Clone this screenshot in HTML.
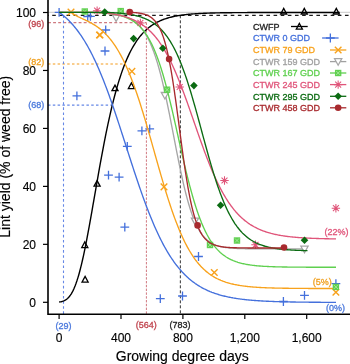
<!DOCTYPE html>
<html><head><meta charset="utf-8"><style>html,body{margin:0;padding:0;background:#fff;}svg{display:block;will-change:transform}</style></head>
<body><svg width="350" height="364" viewBox="0 0 350 364">
<line x1="48" y1="12.3" x2="350" y2="12.3" stroke="#c8c8c8" stroke-width="1"/>
<line x1="48" y1="15.3" x2="350" y2="15.3" stroke="#1a1a1a" stroke-width="1.3" stroke-dasharray="3.6,3.54" stroke-dashoffset="2.92"/>
<line x1="48" y1="22.6" x2="146.4" y2="22.6" stroke="#cf7a80" stroke-width="1.4" stroke-dasharray="2.9,2.2"/>
<line x1="146.4" y1="22.6" x2="146.4" y2="314" stroke="#d07880" stroke-width="1" stroke-dasharray="2.4,1.4"/>
<line x1="48" y1="64" x2="125" y2="64" stroke="#f8bd68" stroke-width="1.4" stroke-dasharray="2.5,2.3"/>
<line x1="48" y1="105.1" x2="112.5" y2="105.1" stroke="#6688e6" stroke-width="1.3" stroke-dasharray="2.5,2.3"/>
<line x1="63.5" y1="15.5" x2="63.5" y2="314" stroke="#6688e6" stroke-width="1.1" stroke-dasharray="2.6,2.5"/>
<line x1="180.35" y1="15.3" x2="180.35" y2="314" stroke="#333" stroke-width="1" stroke-dasharray="3,2"/>
<path d="M59.10,301.98 L60.04,301.86 L60.98,301.69 L61.92,301.47 L62.85,301.19 L63.79,300.84 L64.73,300.40 L65.67,299.87 L66.61,299.22 L67.55,298.44 L68.48,297.53 L69.42,296.45 L70.36,295.21 L71.30,293.78 L72.24,292.16 L73.18,290.33 L74.12,288.28 L75.05,286.02 L75.99,283.53 L76.93,280.81 L77.87,277.86 L78.81,274.68 L79.75,271.28 L80.68,267.65 L81.62,263.82 L82.56,259.78 L83.50,255.55 L84.44,251.13 L85.38,246.55 L86.32,241.82 L87.25,236.95 L88.19,231.96 L89.13,226.86 L90.07,221.67 L91.01,216.40 L91.95,211.08 L92.88,205.71 L93.82,200.32 L94.76,194.92 L95.70,189.52 L96.64,184.13 L97.58,178.77 L98.52,173.45 L99.45,168.18 L100.39,162.98 L101.33,157.84 L102.27,152.78 L103.21,147.81 L104.15,142.93 L105.08,138.15 L106.02,133.47 L106.96,128.90 L107.90,124.44 L108.84,120.09 L109.78,115.86 L110.72,111.75 L111.65,107.76 L112.59,103.89 L113.53,100.14 L114.47,96.51 L115.41,93.00 L116.35,89.60 L117.28,86.32 L118.22,83.16 L119.16,80.11 L120.10,77.18 L121.04,74.35 L121.98,71.63 L122.92,69.01 L123.85,66.49 L124.79,64.08 L125.73,61.76 L126.67,59.53 L127.61,57.40 L128.55,55.35 L129.48,53.39 L130.42,51.51 L131.36,49.71 L132.30,47.99 L133.24,46.34 L134.18,44.77 L135.12,43.26 L136.05,41.82 L136.99,40.44 L137.93,39.13 L138.87,37.87 L139.81,36.67 L140.75,35.52 L141.68,34.43 L142.62,33.38 L143.56,32.39 L144.50,31.44 L145.44,30.53 L146.38,29.67 L147.32,28.84 L148.25,28.06 L149.19,27.31 L150.13,26.59 L151.07,25.91 L152.01,25.26 L152.95,24.65 L153.88,24.06 L154.82,23.50 L155.76,22.96 L156.70,22.46 L157.64,21.97 L158.58,21.51 L159.52,21.07 L160.45,20.65 L161.39,20.26 L162.33,19.88 L163.27,19.52 L164.21,19.17 L165.15,18.85 L166.08,18.54 L167.02,18.24 L167.96,17.96 L168.90,17.69 L169.84,17.44 L170.78,17.20 L171.72,16.97 L172.65,16.75 L173.59,16.54 L174.53,16.34 L175.47,16.15 L176.41,15.97 L177.35,15.80 L178.28,15.64 L179.22,15.48 L180.16,15.34 L181.10,15.20 L182.04,15.07 L182.98,14.94 L183.92,14.82 L184.85,14.70 L185.79,14.60 L186.73,14.49 L187.67,14.39 L188.61,14.30 L189.55,14.21 L190.48,14.13 L191.42,14.05 L192.36,13.97 L193.30,13.90 L194.24,13.83 L195.18,13.76 L196.12,13.70 L197.05,13.64 L197.99,13.59 L198.93,13.53 L199.87,13.48 L200.81,13.43 L201.75,13.39 L202.68,13.34 L203.62,13.30 L204.56,13.26 L205.50,13.22 L206.44,13.19 L207.38,13.15 L208.32,13.12 L209.25,13.09 L210.19,13.06 L211.13,13.03 L212.07,13.01 L213.01,12.98 L213.95,12.96 L214.88,12.94 L215.82,12.92 L216.76,12.89 L217.70,12.88 L218.64,12.86 L219.58,12.84 L220.52,12.82 L221.45,12.81 L222.39,12.79 L223.33,12.78 L224.27,12.76 L225.21,12.75 L226.15,12.74 L227.08,12.73 L228.02,12.71 L228.96,12.70 L229.90,12.69 L230.84,12.68 L231.78,12.68 L232.72,12.67 L233.65,12.66 L234.59,12.65 L235.53,12.64 L236.47,12.64 L237.41,12.63 L238.35,12.62 L239.28,12.62 L240.22,12.61 L241.16,12.61 L242.10,12.60 L243.04,12.60 L243.98,12.59 L244.92,12.59 L245.85,12.58 L246.79,12.58 L247.73,12.57 L248.67,12.57 L249.61,12.57 L250.55,12.56 L251.48,12.56 L252.42,12.56 L253.36,12.55 L254.30,12.55 L255.24,12.55 L256.18,12.55 L257.12,12.54 L258.05,12.54 L258.99,12.54 L259.93,12.54 L260.87,12.54 L261.81,12.53 L262.75,12.53 L263.68,12.53 L264.62,12.53 L265.56,12.53 L266.50,12.53 L267.44,12.53 L268.38,12.52 L269.32,12.52 L270.25,12.52 L271.19,12.52 L272.13,12.52 L273.07,12.52 L274.01,12.52 L274.95,12.52 L275.88,12.52 L276.82,12.52 L277.76,12.51 L278.70,12.51 L279.64,12.51 L280.58,12.51 L281.52,12.51 L282.45,12.51 L283.39,12.51 L284.33,12.51 L285.27,12.51 L286.21,12.51 L287.15,12.51 L288.08,12.51 L289.02,12.51 L289.96,12.51 L290.90,12.51 L291.84,12.51 L292.78,12.51 L293.72,12.51 L294.65,12.51 L295.59,12.51 L296.53,12.51 L297.47,12.51 L298.41,12.50 L299.35,12.50 L300.28,12.50 L301.22,12.50 L302.16,12.50 L303.10,12.50 L304.04,12.50 L304.98,12.50 L305.92,12.50 L306.85,12.50 L307.79,12.50 L308.73,12.50 L309.67,12.50 L310.61,12.50 L311.55,12.50 L312.48,12.50 L313.42,12.50 L314.36,12.50 L315.30,12.50 L316.24,12.50 L317.18,12.50 L318.12,12.50 L319.05,12.50 L319.99,12.50 L320.93,12.50 L321.87,12.50 L322.81,12.50 L323.75,12.50 L324.68,12.50 L325.62,12.50 L326.56,12.50 L327.50,12.50 L328.44,12.50 L329.38,12.50 L330.32,12.50 L331.25,12.50 L332.19,12.50 L333.13,12.50 L334.07,12.50 L335.01,12.50 L335.95,12.50 L336.88,12.50 L337.82,12.50 L338.76,12.50 L339.70,12.50" fill="none" stroke="#000" stroke-width="1.4"/>
<path d="M82.10,282.05 L88.10,282.05 L85.10,276.50 Z" fill="none" stroke="#000" stroke-width="1.35"/>
<path d="M81.80,247.55 L87.80,247.55 L84.80,242.00 Z" fill="none" stroke="#000" stroke-width="1.35"/>
<path d="M94.10,186.15 L100.10,186.15 L97.10,180.60 Z" fill="none" stroke="#000" stroke-width="1.35"/>
<path d="M112.00,90.65 L118.00,90.65 L115.00,85.10 Z" fill="none" stroke="#000" stroke-width="1.35"/>
<path d="M128.40,88.55 L134.40,88.55 L131.40,83.00 Z" fill="none" stroke="#000" stroke-width="1.35"/>
<path d="M280.70,13.95 L286.70,13.95 L283.70,8.40 Z" fill="none" stroke="#000" stroke-width="1.35"/>
<path d="M301.30,13.95 L307.30,13.95 L304.30,8.40 Z" fill="none" stroke="#000" stroke-width="1.35"/>
<path d="M333.30,13.95 L339.30,13.95 L336.30,8.40 Z" fill="none" stroke="#000" stroke-width="1.35"/>
<path d="M59.10,12.30 L60.03,12.97 L60.95,13.66 L61.88,14.38 L62.80,15.12 L63.73,15.88 L64.66,16.67 L65.58,17.49 L66.51,18.33 L67.43,19.20 L68.36,20.10 L69.29,21.02 L70.21,21.98 L71.14,22.96 L72.07,23.97 L72.99,25.02 L73.92,26.10 L74.84,27.21 L75.77,28.35 L76.70,29.53 L77.62,30.75 L78.55,31.99 L79.47,33.28 L80.40,34.60 L81.33,35.96 L82.25,37.35 L83.18,38.78 L84.10,40.26 L85.03,41.77 L85.96,43.32 L86.88,44.91 L87.81,46.54 L88.73,48.21 L89.66,49.93 L90.59,51.68 L91.51,53.48 L92.44,55.31 L93.37,57.19 L94.29,59.12 L95.22,61.08 L96.14,63.09 L97.07,65.13 L98.00,67.22 L98.92,69.35 L99.85,71.52 L100.77,73.73 L101.70,75.98 L102.63,78.27 L103.55,80.60 L104.48,82.97 L105.40,85.38 L106.33,87.82 L107.26,90.29 L108.18,92.81 L109.11,95.35 L110.03,97.93 L110.96,100.54 L111.89,103.17 L112.81,105.84 L113.74,108.53 L114.67,111.25 L115.59,113.99 L116.52,116.75 L117.44,119.54 L118.37,122.34 L119.30,125.16 L120.22,127.99 L121.15,130.84 L122.07,133.70 L123.00,136.56 L123.93,139.44 L124.85,142.32 L125.78,145.20 L126.70,148.08 L127.63,150.96 L128.56,153.84 L129.48,156.71 L130.41,159.58 L131.33,162.44 L132.26,165.28 L133.19,168.12 L134.11,170.94 L135.04,173.74 L135.97,176.52 L136.89,179.29 L137.82,182.03 L138.74,184.75 L139.67,187.44 L140.60,190.11 L141.52,192.75 L142.45,195.36 L143.37,197.94 L144.30,200.49 L145.23,203.00 L146.15,205.48 L147.08,207.93 L148.00,210.34 L148.93,212.72 L149.86,215.05 L150.78,217.35 L151.71,219.61 L152.63,221.83 L153.56,224.01 L154.49,226.15 L155.41,228.25 L156.34,230.31 L157.27,232.33 L158.19,234.31 L159.12,236.24 L160.04,238.14 L160.97,239.99 L161.90,241.81 L162.82,243.58 L163.75,245.31 L164.67,247.01 L165.60,248.66 L166.53,250.27 L167.45,251.84 L168.38,253.38 L169.30,254.87 L170.23,256.33 L171.16,257.75 L172.08,259.14 L173.01,260.48 L173.93,261.79 L174.86,263.07 L175.79,264.31 L176.71,265.52 L177.64,266.69 L178.57,267.83 L179.49,268.94 L180.42,270.02 L181.34,271.06 L182.27,272.08 L183.20,273.06 L184.12,274.02 L185.05,274.95 L185.97,275.85 L186.90,276.72 L187.83,277.57 L188.75,278.39 L189.68,279.19 L190.60,279.96 L191.53,280.71 L192.46,281.43 L193.38,282.14 L194.31,282.82 L195.23,283.48 L196.16,284.11 L197.09,284.73 L198.01,285.33 L198.94,285.91 L199.87,286.47 L200.79,287.01 L201.72,287.54 L202.64,288.04 L203.57,288.53 L204.50,289.01 L205.42,289.47 L206.35,289.91 L207.27,290.34 L208.20,290.76 L209.13,291.16 L210.05,291.55 L210.98,291.92 L211.90,292.29 L212.83,292.64 L213.76,292.97 L214.68,293.30 L215.61,293.62 L216.53,293.92 L217.46,294.22 L218.39,294.50 L219.31,294.78 L220.24,295.05 L221.17,295.30 L222.09,295.55 L223.02,295.79 L223.94,296.02 L224.87,296.25 L225.80,296.46 L226.72,296.67 L227.65,296.87 L228.57,297.07 L229.50,297.26 L230.43,297.44 L231.35,297.61 L232.28,297.78 L233.20,297.95 L234.13,298.10 L235.06,298.26 L235.98,298.40 L236.91,298.55 L237.83,298.68 L238.76,298.81 L239.69,298.94 L240.61,299.06 L241.54,299.18 L242.47,299.30 L243.39,299.41 L244.32,299.52 L245.24,299.62 L246.17,299.72 L247.10,299.81 L248.02,299.91 L248.95,300.00 L249.87,300.08 L250.80,300.17 L251.73,300.25 L252.65,300.32 L253.58,300.40 L254.50,300.47 L255.43,300.54 L256.36,300.61 L257.28,300.67 L258.21,300.73 L259.13,300.79 L260.06,300.85 L260.99,300.91 L261.91,300.96 L262.84,301.02 L263.77,301.07 L264.69,301.11 L265.62,301.16 L266.54,301.21 L267.47,301.25 L268.40,301.29 L269.32,301.33 L270.25,301.37 L271.17,301.41 L272.10,301.45 L273.03,301.48 L273.95,301.52 L274.88,301.55 L275.80,301.58 L276.73,301.61 L277.66,301.64 L278.58,301.67 L279.51,301.70 L280.43,301.72 L281.36,301.75 L282.29,301.77 L283.21,301.80 L284.14,301.82 L285.07,301.84 L285.99,301.86 L286.92,301.88 L287.84,301.90 L288.77,301.92 L289.70,301.94 L290.62,301.96 L291.55,301.98 L292.47,301.99 L293.40,302.01 L294.33,302.02 L295.25,302.04 L296.18,302.05 L297.10,302.07 L298.03,302.08 L298.96,302.09 L299.88,302.11 L300.81,302.12 L301.73,302.13 L302.66,302.14 L303.59,302.15 L304.51,302.16 L305.44,302.17 L306.37,302.18 L307.29,302.19 L308.22,302.20 L309.14,302.21 L310.07,302.22 L311.00,302.22 L311.92,302.23 L312.85,302.24 L313.77,302.25 L314.70,302.25 L315.63,302.26 L316.55,302.27 L317.48,302.27 L318.40,302.28 L319.33,302.28 L320.26,302.29 L321.18,302.30 L322.11,302.30 L323.03,302.31 L323.96,302.31 L324.89,302.32 L325.81,302.32 L326.74,302.32 L327.67,302.33 L328.59,302.33 L329.52,302.34 L330.44,302.34 L331.37,302.34 L332.30,302.35 L333.22,302.35 L334.15,302.35 L335.07,302.36 L336.00,302.36" fill="none" stroke="#4470dc" stroke-width="1.35"/>
<path d="M54.70,12.30 H63.50 M59.10,7.90 V16.70" stroke="#4470dc" stroke-width="1.3"/>
<path d="M72.50,95.90 H81.30 M76.90,91.50 V100.30" stroke="#4470dc" stroke-width="1.3"/>
<path d="M83.30,16.50 H92.10 M87.70,12.10 V20.90" stroke="#4470dc" stroke-width="1.3"/>
<path d="M86.00,16.30 H94.80 M90.40,11.90 V20.70" stroke="#4470dc" stroke-width="1.3"/>
<path d="M101.30,30.00 H110.10 M105.70,25.60 V34.40" stroke="#4470dc" stroke-width="1.3"/>
<path d="M100.60,51.00 H109.40 M105.00,46.60 V55.40" stroke="#4470dc" stroke-width="1.3"/>
<path d="M104.10,175.10 H112.90 M108.50,170.70 V179.50" stroke="#4470dc" stroke-width="1.3"/>
<path d="M114.70,177.10 H123.50 M119.10,172.70 V181.50" stroke="#4470dc" stroke-width="1.3"/>
<path d="M120.40,227.20 H129.20 M124.80,222.80 V231.60" stroke="#4470dc" stroke-width="1.3"/>
<path d="M122.90,146.30 H131.70 M127.30,141.90 V150.70" stroke="#4470dc" stroke-width="1.3"/>
<path d="M137.50,130.90 H146.30 M141.90,126.50 V135.30" stroke="#4470dc" stroke-width="1.3"/>
<path d="M145.30,128.80 H154.10 M149.70,124.40 V133.20" stroke="#4470dc" stroke-width="1.3"/>
<path d="M155.90,298.60 H164.70 M160.30,294.20 V303.00" stroke="#4470dc" stroke-width="1.3"/>
<path d="M178.10,296.00 H186.90 M182.50,291.60 V300.40" stroke="#4470dc" stroke-width="1.3"/>
<path d="M194.10,256.50 H202.90 M198.50,252.10 V260.90" stroke="#4470dc" stroke-width="1.3"/>
<path d="M279.00,301.50 H287.80 M283.40,297.10 V305.90" stroke="#4470dc" stroke-width="1.3"/>
<path d="M300.10,295.30 H308.90 M304.50,290.90 V299.70" stroke="#4470dc" stroke-width="1.3"/>
<path d="M331.50,283.70 H340.30 M335.90,279.30 V288.10" stroke="#4470dc" stroke-width="1.3"/>
<path d="M71.30,12.30 L72.19,13.04 L73.07,13.71 L73.96,14.33 L74.84,14.89 L75.73,15.42 L76.61,15.92 L77.50,16.38 L78.38,16.83 L79.27,17.26 L80.15,17.68 L81.04,18.09 L81.92,18.50 L82.81,18.90 L83.69,19.30 L84.58,19.71 L85.46,20.12 L86.35,20.54 L87.24,20.96 L88.12,21.40 L89.01,21.85 L89.89,22.31 L90.78,22.79 L91.66,23.28 L92.55,23.79 L93.43,24.31 L94.32,24.86 L95.20,25.42 L96.09,26.01 L96.97,26.62 L97.86,27.25 L98.74,27.91 L99.63,28.59 L100.51,29.30 L101.40,30.04 L102.28,30.80 L103.17,31.60 L104.06,32.43 L104.94,33.28 L105.83,34.18 L106.71,35.10 L107.60,36.06 L108.48,37.06 L109.37,38.09 L110.25,39.17 L111.14,40.28 L112.02,41.43 L112.91,42.63 L113.79,43.86 L114.68,45.14 L115.56,46.47 L116.45,47.84 L117.33,49.26 L118.22,50.73 L119.11,52.24 L119.99,53.80 L120.88,55.42 L121.76,57.08 L122.65,58.80 L123.53,60.57 L124.42,62.39 L125.30,64.27 L126.19,66.20 L127.07,68.18 L127.96,70.22 L128.84,72.31 L129.73,74.46 L130.61,76.66 L131.50,78.91 L132.38,81.22 L133.27,83.58 L134.16,86.00 L135.04,88.47 L135.93,90.98 L136.81,93.55 L137.70,96.17 L138.58,98.83 L139.47,101.54 L140.35,104.30 L141.24,107.10 L142.12,109.93 L143.01,112.81 L143.89,115.73 L144.78,118.67 L145.66,121.65 L146.55,124.66 L147.43,127.70 L148.32,130.76 L149.21,133.84 L150.09,136.94 L150.98,140.05 L151.86,143.17 L152.75,146.31 L153.63,149.44 L154.52,152.59 L155.40,155.72 L156.29,158.86 L157.17,161.99 L158.06,165.10 L158.94,168.21 L159.83,171.29 L160.71,174.36 L161.60,177.40 L162.48,180.42 L163.37,183.41 L164.25,186.37 L165.14,189.29 L166.03,192.18 L166.91,195.03 L167.80,197.84 L168.68,200.60 L169.57,203.33 L170.45,206.00 L171.34,208.63 L172.22,211.21 L173.11,213.73 L173.99,216.21 L174.88,218.63 L175.76,221.01 L176.65,223.32 L177.53,225.58 L178.42,227.79 L179.30,229.94 L180.19,232.04 L181.08,234.08 L181.96,236.06 L182.85,237.99 L183.73,239.87 L184.62,241.69 L185.50,243.46 L186.39,245.17 L187.27,246.83 L188.16,248.44 L189.04,250.00 L189.93,251.50 L190.81,252.96 L191.70,254.37 L192.58,255.73 L193.47,257.05 L194.35,258.31 L195.24,259.54 L196.13,260.72 L197.01,261.86 L197.90,262.95 L198.78,264.01 L199.67,265.02 L200.55,266.00 L201.44,266.94 L202.32,267.85 L203.21,268.72 L204.09,269.56 L204.98,270.36 L205.86,271.14 L206.75,271.88 L207.63,272.59 L208.52,273.28 L209.40,273.93 L210.29,274.56 L211.17,275.17 L212.06,275.75 L212.95,276.30 L213.83,276.83 L214.72,277.35 L215.60,277.83 L216.49,278.30 L217.37,278.75 L218.26,279.18 L219.14,279.59 L220.03,279.99 L220.91,280.37 L221.80,280.73 L222.68,281.07 L223.57,281.41 L224.45,281.72 L225.34,282.03 L226.22,282.32 L227.11,282.59 L228.00,282.86 L228.88,283.11 L229.77,283.35 L230.65,283.59 L231.54,283.81 L232.42,284.02 L233.31,284.22 L234.19,284.42 L235.08,284.60 L235.96,284.78 L236.85,284.95 L237.73,285.11 L238.62,285.26 L239.50,285.41 L240.39,285.55 L241.27,285.69 L242.16,285.82 L243.05,285.94 L243.93,286.06 L244.82,286.17 L245.70,286.28 L246.59,286.38 L247.47,286.48 L248.36,286.57 L249.24,286.66 L250.13,286.74 L251.01,286.83 L251.90,286.90 L252.78,286.98 L253.67,287.05 L254.55,287.12 L255.44,287.18 L256.32,287.24 L257.21,287.30 L258.09,287.36 L258.98,287.41 L259.87,287.46 L260.75,287.51 L261.64,287.56 L262.52,287.60 L263.41,287.64 L264.29,287.68 L265.18,287.72 L266.06,287.76 L266.95,287.80 L267.83,287.83 L268.72,287.86 L269.60,287.89 L270.49,287.92 L271.37,287.95 L272.26,287.98 L273.14,288.00 L274.03,288.03 L274.92,288.05 L275.80,288.07 L276.69,288.09 L277.57,288.11 L278.46,288.13 L279.34,288.15 L280.23,288.17 L281.11,288.18 L282.00,288.20 L282.88,288.22 L283.77,288.23 L284.65,288.24 L285.54,288.26 L286.42,288.27 L287.31,288.28 L288.19,288.29 L289.08,288.30 L289.97,288.31 L290.85,288.32 L291.74,288.33 L292.62,288.34 L293.51,288.35 L294.39,288.36 L295.28,288.37 L296.16,288.38 L297.05,288.38 L297.93,288.39 L298.82,288.40 L299.70,288.40 L300.59,288.41 L301.47,288.41 L302.36,288.42 L303.24,288.42 L304.13,288.43 L305.02,288.43 L305.90,288.44 L306.79,288.44 L307.67,288.45 L308.56,288.45 L309.44,288.46 L310.33,288.46 L311.21,288.46 L312.10,288.47 L312.98,288.47 L313.87,288.47 L314.75,288.47 L315.64,288.48 L316.52,288.48 L317.41,288.48 L318.29,288.48 L319.18,288.49 L320.06,288.49 L320.95,288.49 L321.84,288.49 L322.72,288.49 L323.61,288.50 L324.49,288.50 L325.38,288.50 L326.26,288.50 L327.15,288.50 L328.03,288.50 L328.92,288.51 L329.80,288.51 L330.69,288.51 L331.57,288.51 L332.46,288.51 L333.34,288.51 L334.23,288.51 L335.11,288.51 L336.00,288.51" fill="none" stroke="#f8a21c" stroke-width="1.35"/>
<path d="M67.70,8.70 L74.30,15.30 M67.70,15.30 L74.30,8.70" stroke="#f8a21c" stroke-width="1.4"/>
<path d="M96.20,31.70 L102.80,38.30 M96.20,38.30 L102.80,31.70" stroke="#f8a21c" stroke-width="1.4"/>
<path d="M96.70,31.70 L103.30,38.30 M96.70,38.30 L103.30,31.70" stroke="#f8a21c" stroke-width="1.4"/>
<path d="M128.60,68.10 L135.20,74.70 M128.60,74.70 L135.20,68.10" stroke="#f8a21c" stroke-width="1.4"/>
<path d="M160.70,183.60 L167.30,190.20 M160.70,190.20 L167.30,183.60" stroke="#f8a21c" stroke-width="1.4"/>
<path d="M211.00,269.20 L217.60,275.80 M211.00,275.80 L217.60,269.20" stroke="#f8a21c" stroke-width="1.4"/>
<path d="M332.60,288.90 L339.20,295.50 M332.60,295.50 L339.20,288.90" stroke="#f8a21c" stroke-width="1.4"/>
<path d="M59.10,12.30 L59.92,12.30 L60.75,12.30 L61.57,12.30 L62.40,12.30 L63.22,12.30 L64.04,12.30 L64.87,12.30 L65.69,12.30 L66.52,12.30 L67.34,12.30 L68.16,12.30 L68.99,12.30 L69.81,12.30 L70.64,12.30 L71.46,12.30 L72.29,12.30 L73.11,12.30 L73.93,12.30 L74.76,12.30 L75.58,12.30 L76.41,12.30 L77.23,12.30 L78.05,12.30 L78.88,12.30 L79.70,12.30 L80.53,12.30 L81.35,12.30 L82.17,12.30 L83.00,12.30 L83.82,12.30 L84.65,12.31 L85.47,12.32 L86.29,12.34 L87.12,12.35 L87.94,12.36 L88.77,12.38 L89.59,12.39 L90.42,12.41 L91.24,12.43 L92.06,12.45 L92.89,12.47 L93.71,12.49 L94.54,12.52 L95.36,12.54 L96.18,12.57 L97.01,12.60 L97.83,12.63 L98.66,12.66 L99.48,12.70 L100.30,12.74 L101.13,12.78 L101.95,12.82 L102.78,12.87 L103.60,12.92 L104.42,12.97 L105.25,13.03 L106.07,13.09 L106.90,13.16 L107.72,13.23 L108.54,13.30 L109.37,13.38 L110.19,13.47 L111.02,13.56 L111.84,13.66 L112.67,13.76 L113.49,13.88 L114.31,14.00 L115.14,14.12 L115.96,14.26 L116.79,14.41 L117.61,14.56 L118.43,14.73 L119.26,14.91 L120.08,15.10 L120.91,15.30 L121.73,15.52 L122.55,15.75 L123.38,15.99 L124.20,16.26 L125.03,16.54 L125.85,16.84 L126.67,17.16 L127.50,17.50 L128.32,17.87 L129.15,18.26 L129.97,18.67 L130.79,19.11 L131.62,19.58 L132.44,20.09 L133.27,20.62 L134.09,21.19 L134.92,21.80 L135.74,22.44 L136.56,23.13 L137.39,23.86 L138.21,24.64 L139.04,25.47 L139.86,26.34 L140.68,27.28 L141.51,28.27 L142.33,29.32 L143.16,30.43 L143.98,31.61 L144.80,32.86 L145.63,34.18 L146.45,35.58 L147.28,37.05 L148.10,38.61 L148.92,40.26 L149.75,41.99 L150.57,43.82 L151.40,45.75 L152.22,47.77 L153.05,49.89 L153.87,52.12 L154.69,54.45 L155.52,56.90 L156.34,59.45 L157.17,62.11 L157.99,64.89 L158.81,67.78 L159.64,70.78 L160.46,73.90 L161.29,77.12 L162.11,80.45 L162.93,83.90 L163.76,87.44 L164.58,91.08 L165.41,94.82 L166.23,98.65 L167.05,102.55 L167.88,106.54 L168.70,110.59 L169.53,114.70 L170.35,118.87 L171.17,123.07 L172.00,127.31 L172.82,131.56 L173.65,135.83 L174.47,140.10 L175.30,144.35 L176.12,148.59 L176.94,152.79 L177.77,156.95 L178.59,161.05 L179.42,165.10 L180.24,169.07 L181.06,172.95 L181.89,176.76 L182.71,180.46 L183.54,184.06 L184.36,187.56 L185.18,190.94 L186.01,194.21 L186.83,197.35 L187.66,200.38 L188.48,203.28 L189.30,206.05 L190.13,208.71 L190.95,211.24 L191.78,213.64 L192.60,215.93 L193.43,218.10 L194.25,220.15 L195.07,222.09 L195.90,223.92 L196.72,225.64 L197.55,227.26 L198.37,228.79 L199.19,230.22 L200.02,231.56 L200.84,232.81 L201.67,233.98 L202.49,235.08 L203.31,236.10 L204.14,237.05 L204.96,237.94 L205.79,238.76 L206.61,239.53 L207.43,240.24 L208.26,240.91 L209.08,241.52 L209.91,242.09 L210.73,242.62 L211.55,243.10 L212.38,243.56 L213.20,243.97 L214.03,244.36 L214.85,244.72 L215.68,245.05 L216.50,245.35 L217.32,245.63 L218.15,245.89 L218.97,246.13 L219.80,246.35 L220.62,246.55 L221.44,246.74 L222.27,246.91 L223.09,247.07 L223.92,247.22 L224.74,247.35 L225.56,247.48 L226.39,247.59 L227.21,247.70 L228.04,247.79 L228.86,247.88 L229.68,247.96 L230.51,248.04 L231.33,248.11 L232.16,248.17 L232.98,248.23 L233.81,248.28 L234.63,248.33 L235.45,248.38 L236.28,248.42 L237.10,248.46 L237.93,248.49 L238.75,248.53 L239.57,248.56 L240.40,248.58 L241.22,248.61 L242.05,248.63 L242.87,248.65 L243.69,248.67 L244.52,248.69 L245.34,248.71 L246.17,248.72 L246.99,248.73 L247.81,248.75 L248.64,248.76 L249.46,248.77 L250.29,248.78 L251.11,248.79 L251.93,248.80 L252.76,248.80 L253.58,248.81 L254.41,248.82 L255.23,248.82 L256.06,248.83 L256.88,248.83 L257.70,248.84 L258.53,248.84 L259.35,248.85 L260.18,248.85 L261.00,248.85 L261.82,248.86 L262.65,248.86 L263.47,248.86 L264.30,248.86 L265.12,248.86 L265.94,248.87 L266.77,248.87 L267.59,248.87 L268.42,248.87 L269.24,248.87 L270.06,248.87 L270.89,248.88 L271.71,248.88 L272.54,248.88 L273.36,248.88 L274.18,248.88 L275.01,248.88 L275.83,248.88 L276.66,248.88 L277.48,248.88 L278.31,248.88 L279.13,248.88 L279.95,248.88 L280.78,248.88 L281.60,248.88 L282.43,248.88 L283.25,248.88 L284.07,248.89 L284.90,248.89 L285.72,248.89 L286.55,248.89 L287.37,248.89 L288.19,248.89 L289.02,248.89 L289.84,248.89 L290.67,248.89 L291.49,248.89 L292.31,248.89 L293.14,248.89 L293.96,248.89 L294.79,248.89 L295.61,248.89 L296.44,248.89 L297.26,248.89 L298.08,248.89 L298.91,248.89 L299.73,248.89 L300.56,248.89 L301.38,248.89 L302.20,248.89 L303.03,248.89 L303.85,248.89 L304.68,248.89 L305.50,248.89" fill="none" stroke="#a6a6a6" stroke-width="1.35"/>
<path d="M112.50,15.02 L119.70,15.02 L116.10,21.50 Z" fill="white" stroke="#a6a6a6" stroke-width="1.3"/>
<path d="M161.30,92.52 L168.50,92.52 L164.90,99.00 Z" fill="white" stroke="#a6a6a6" stroke-width="1.3"/>
<path d="M191.40,218.12 L198.60,218.12 L195.00,224.60 Z" fill="white" stroke="#a6a6a6" stroke-width="1.3"/>
<path d="M300.90,246.22 L308.10,246.22 L304.50,252.70 Z" fill="white" stroke="#a6a6a6" stroke-width="1.3"/>
<path d="M59.10,12.30 L60.03,12.30 L60.95,12.30 L61.88,12.30 L62.80,12.30 L63.73,12.30 L64.66,12.30 L65.58,12.30 L66.51,12.30 L67.43,12.30 L68.36,12.30 L69.29,12.30 L70.21,12.30 L71.14,12.30 L72.07,12.30 L72.99,12.30 L73.92,12.30 L74.84,12.30 L75.77,12.30 L76.70,12.30 L77.62,12.30 L78.55,12.30 L79.47,12.30 L80.40,12.30 L81.33,12.30 L82.25,12.30 L83.18,12.30 L84.10,12.30 L85.03,12.30 L85.96,12.32 L86.88,12.34 L87.81,12.36 L88.73,12.39 L89.66,12.41 L90.59,12.44 L91.51,12.47 L92.44,12.50 L93.37,12.53 L94.29,12.57 L95.22,12.61 L96.14,12.65 L97.07,12.69 L98.00,12.74 L98.92,12.79 L99.85,12.84 L100.77,12.90 L101.70,12.96 L102.63,13.02 L103.55,13.09 L104.48,13.17 L105.40,13.25 L106.33,13.33 L107.26,13.43 L108.18,13.52 L109.11,13.63 L110.03,13.74 L110.96,13.86 L111.89,13.99 L112.81,14.13 L113.74,14.27 L114.67,14.43 L115.59,14.60 L116.52,14.78 L117.44,14.97 L118.37,15.17 L119.30,15.39 L120.22,15.62 L121.15,15.87 L122.07,16.14 L123.00,16.43 L123.93,16.73 L124.85,17.05 L125.78,17.40 L126.70,17.77 L127.63,18.16 L128.56,18.58 L129.48,19.03 L130.41,19.51 L131.33,20.02 L132.26,20.56 L133.19,21.14 L134.11,21.76 L135.04,22.42 L135.97,23.11 L136.89,23.86 L137.82,24.65 L138.74,25.48 L139.67,26.38 L140.60,27.32 L141.52,28.33 L142.45,29.39 L143.37,30.52 L144.30,31.71 L145.23,32.98 L146.15,34.32 L147.08,35.73 L148.00,37.23 L148.93,38.80 L149.86,40.46 L150.78,42.21 L151.71,44.06 L152.63,45.99 L153.56,48.02 L154.49,50.15 L155.41,52.39 L156.34,54.72 L157.27,57.16 L158.19,59.71 L159.12,62.36 L160.04,65.12 L160.97,67.99 L161.90,70.96 L162.82,74.04 L163.75,77.22 L164.67,80.51 L165.60,83.89 L166.53,87.37 L167.45,90.94 L168.38,94.59 L169.30,98.33 L170.23,102.14 L171.16,106.02 L172.08,109.96 L173.01,113.95 L173.93,117.99 L174.86,122.07 L175.79,126.18 L176.71,130.31 L177.64,134.45 L178.57,138.59 L179.49,142.73 L180.42,146.86 L181.34,150.96 L182.27,155.03 L183.20,159.05 L184.12,163.04 L185.05,166.96 L185.97,170.83 L186.90,174.63 L187.83,178.35 L188.75,182.00 L189.68,185.56 L190.60,189.03 L191.53,192.42 L192.46,195.71 L193.38,198.90 L194.31,201.99 L195.23,204.99 L196.16,207.89 L197.09,210.68 L198.01,213.37 L198.94,215.97 L199.87,218.46 L200.79,220.86 L201.72,223.16 L202.64,225.37 L203.57,227.48 L204.50,229.50 L205.42,231.43 L206.35,233.28 L207.27,235.04 L208.20,236.72 L209.13,238.33 L210.05,239.85 L210.98,241.31 L211.90,242.69 L212.83,244.00 L213.76,245.25 L214.68,246.44 L215.61,247.57 L216.53,248.64 L217.46,249.65 L218.39,250.61 L219.31,251.53 L220.24,252.39 L221.17,253.21 L222.09,253.99 L223.02,254.72 L223.94,255.42 L224.87,256.07 L225.80,256.70 L226.72,257.29 L227.65,257.84 L228.57,258.37 L229.50,258.87 L230.43,259.34 L231.35,259.78 L232.28,260.20 L233.20,260.60 L234.13,260.98 L235.06,261.33 L235.98,261.67 L236.91,261.98 L237.83,262.28 L238.76,262.56 L239.69,262.83 L240.61,263.08 L241.54,263.32 L242.47,263.54 L243.39,263.75 L244.32,263.95 L245.24,264.14 L246.17,264.32 L247.10,264.48 L248.02,264.64 L248.95,264.79 L249.87,264.93 L250.80,265.06 L251.73,265.19 L252.65,265.31 L253.58,265.42 L254.50,265.52 L255.43,265.62 L256.36,265.72 L257.28,265.81 L258.21,265.89 L259.13,265.97 L260.06,266.04 L260.99,266.11 L261.91,266.18 L262.84,266.24 L263.77,266.30 L264.69,266.35 L265.62,266.41 L266.54,266.45 L267.47,266.50 L268.40,266.54 L269.32,266.59 L270.25,266.62 L271.17,266.66 L272.10,266.70 L273.03,266.73 L273.95,266.76 L274.88,266.79 L275.80,266.82 L276.73,266.84 L277.66,266.87 L278.58,266.89 L279.51,266.91 L280.43,266.93 L281.36,266.95 L282.29,266.97 L283.21,266.99 L284.14,267.00 L285.07,267.02 L285.99,267.03 L286.92,267.04 L287.84,267.06 L288.77,267.07 L289.70,267.08 L290.62,267.09 L291.55,267.10 L292.47,267.11 L293.40,267.12 L294.33,267.13 L295.25,267.14 L296.18,267.14 L297.10,267.15 L298.03,267.16 L298.96,267.16 L299.88,267.17 L300.81,267.18 L301.73,267.18 L302.66,267.19 L303.59,267.19 L304.51,267.19 L305.44,267.20 L306.37,267.20 L307.29,267.21 L308.22,267.21 L309.14,267.21 L310.07,267.22 L311.00,267.22 L311.92,267.22 L312.85,267.22 L313.77,267.23 L314.70,267.23 L315.63,267.23 L316.55,267.23 L317.48,267.24 L318.40,267.24 L319.33,267.24 L320.26,267.24 L321.18,267.24 L322.11,267.24 L323.03,267.25 L323.96,267.25 L324.89,267.25 L325.81,267.25 L326.74,267.25 L327.67,267.25 L328.59,267.25 L329.52,267.25 L330.44,267.25 L331.37,267.25 L332.30,267.26 L333.22,267.26 L334.15,267.26 L335.07,267.26 L336.00,267.26" fill="none" stroke="#5fd04f" stroke-width="1.35"/>
<rect x="81.60" y="8.30" width="6.40" height="6.40" fill="#5fd04f"/><path d="M82.70,9.40 L86.90,13.60 M82.70,13.60 L86.90,9.40" stroke="#b8ecb0" stroke-width="0.7"/>
<rect x="117.50" y="7.90" width="6.40" height="6.40" fill="#5fd04f"/><path d="M118.60,9.00 L122.80,13.20 M118.60,13.20 L122.80,9.00" stroke="#b8ecb0" stroke-width="0.7"/>
<rect x="163.90" y="86.50" width="6.40" height="6.40" fill="#5fd04f"/><path d="M165.00,87.60 L169.20,91.80 M165.00,91.80 L169.20,87.60" stroke="#b8ecb0" stroke-width="0.7"/>
<rect x="206.80" y="241.80" width="6.40" height="6.40" fill="#5fd04f"/><path d="M207.90,242.90 L212.10,247.10 M207.90,247.10 L212.10,242.90" stroke="#b8ecb0" stroke-width="0.7"/>
<rect x="233.80" y="237.30" width="6.40" height="6.40" fill="#5fd04f"/><path d="M234.90,238.40 L239.10,242.60 M234.90,242.60 L239.10,238.40" stroke="#b8ecb0" stroke-width="0.7"/>
<rect x="332.70" y="283.70" width="6.40" height="6.40" fill="#5fd04f"/><path d="M333.80,284.80 L338.00,289.00 M333.80,289.00 L338.00,284.80" stroke="#b8ecb0" stroke-width="0.7"/>
<path d="M59.10,12.30 L60.03,12.30 L60.95,12.30 L61.88,12.30 L62.80,12.30 L63.73,12.30 L64.66,12.30 L65.58,12.30 L66.51,12.30 L67.43,12.30 L68.36,12.30 L69.29,12.30 L70.21,12.30 L71.14,12.30 L72.07,12.30 L72.99,12.30 L73.92,12.30 L74.84,12.30 L75.77,12.30 L76.70,12.30 L77.62,12.30 L78.55,12.30 L79.47,12.30 L80.40,12.30 L81.33,12.30 L82.25,12.30 L83.18,12.30 L84.10,12.30 L85.03,12.30 L85.96,12.30 L86.88,12.30 L87.81,12.30 L88.73,12.30 L89.66,12.30 L90.59,12.30 L91.51,12.30 L92.44,12.30 L93.37,12.30 L94.29,12.30 L95.22,12.30 L96.14,12.30 L97.07,12.30 L98.00,12.37 L98.92,12.44 L99.85,12.51 L100.77,12.59 L101.70,12.67 L102.63,12.76 L103.55,12.85 L104.48,12.94 L105.40,13.04 L106.33,13.14 L107.26,13.25 L108.18,13.36 L109.11,13.48 L110.03,13.60 L110.96,13.73 L111.89,13.87 L112.81,14.01 L113.74,14.16 L114.67,14.32 L115.59,14.49 L116.52,14.66 L117.44,14.84 L118.37,15.03 L119.30,15.24 L120.22,15.45 L121.15,15.67 L122.07,15.90 L123.00,16.14 L123.93,16.39 L124.85,16.66 L125.78,16.93 L126.70,17.22 L127.63,17.53 L128.56,17.85 L129.48,18.18 L130.41,18.53 L131.33,18.90 L132.26,19.28 L133.19,19.68 L134.11,20.10 L135.04,20.54 L135.97,21.00 L136.89,21.48 L137.82,21.98 L138.74,22.51 L139.67,23.05 L140.60,23.63 L141.52,24.22 L142.45,24.85 L143.37,25.50 L144.30,26.18 L145.23,26.88 L146.15,27.62 L147.08,28.39 L148.00,29.19 L148.93,30.03 L149.86,30.90 L150.78,31.80 L151.71,32.74 L152.63,33.72 L153.56,34.74 L154.49,35.79 L155.41,36.89 L156.34,38.03 L157.27,39.21 L158.19,40.44 L159.12,41.71 L160.04,43.02 L160.97,44.38 L161.90,45.79 L162.82,47.24 L163.75,48.75 L164.67,50.30 L165.60,51.90 L166.53,53.55 L167.45,55.25 L168.38,57.00 L169.30,58.80 L170.23,60.64 L171.16,62.54 L172.08,64.49 L173.01,66.49 L173.93,68.53 L174.86,70.62 L175.79,72.76 L176.71,74.95 L177.64,77.17 L178.57,79.45 L179.49,81.76 L180.42,84.11 L181.34,86.50 L182.27,88.93 L183.20,91.39 L184.12,93.89 L185.05,96.41 L185.97,98.96 L186.90,101.54 L187.83,104.13 L188.75,106.75 L189.68,109.38 L190.60,112.03 L191.53,114.69 L192.46,117.35 L193.38,120.03 L194.31,122.70 L195.23,125.37 L196.16,128.04 L197.09,130.70 L198.01,133.35 L198.94,135.99 L199.87,138.61 L200.79,141.21 L201.72,143.80 L202.64,146.35 L203.57,148.89 L204.50,151.39 L205.42,153.87 L206.35,156.31 L207.27,158.72 L208.20,161.10 L209.13,163.43 L210.05,165.73 L210.98,167.99 L211.90,170.20 L212.83,172.37 L213.76,174.50 L214.68,176.58 L215.61,178.62 L216.53,180.61 L217.46,182.56 L218.39,184.46 L219.31,186.31 L220.24,188.12 L221.17,189.88 L222.09,191.59 L223.02,193.26 L223.94,194.88 L224.87,196.45 L225.80,197.98 L226.72,199.47 L227.65,200.91 L228.57,202.30 L229.50,203.65 L230.43,204.97 L231.35,206.24 L232.28,207.46 L233.20,208.65 L234.13,209.80 L235.06,210.91 L235.98,211.99 L236.91,213.02 L237.83,214.03 L238.76,214.99 L239.69,215.93 L240.61,216.83 L241.54,217.69 L242.47,218.53 L243.39,219.34 L244.32,220.12 L245.24,220.87 L246.17,221.59 L247.10,222.28 L248.02,222.95 L248.95,223.60 L249.87,224.22 L250.80,224.81 L251.73,225.39 L252.65,225.94 L253.58,226.47 L254.50,226.98 L255.43,227.47 L256.36,227.94 L257.28,228.40 L258.21,228.83 L259.13,229.25 L260.06,229.65 L260.99,230.04 L261.91,230.41 L262.84,230.77 L263.77,231.11 L264.69,231.44 L265.62,231.76 L266.54,232.06 L267.47,232.35 L268.40,232.63 L269.32,232.90 L270.25,233.16 L271.17,233.41 L272.10,233.64 L273.03,233.87 L273.95,234.09 L274.88,234.30 L275.80,234.50 L276.73,234.70 L277.66,234.88 L278.58,235.06 L279.51,235.23 L280.43,235.39 L281.36,235.55 L282.29,235.70 L283.21,235.85 L284.14,235.98 L285.07,236.12 L285.99,236.24 L286.92,236.37 L287.84,236.48 L288.77,236.60 L289.70,236.70 L290.62,236.81 L291.55,236.91 L292.47,237.00 L293.40,237.09 L294.33,237.18 L295.25,237.26 L296.18,237.34 L297.10,237.42 L298.03,237.50 L298.96,237.57 L299.88,237.63 L300.81,237.70 L301.73,237.76 L302.66,237.82 L303.59,237.88 L304.51,237.93 L305.44,237.99 L306.37,238.04 L307.29,238.09 L308.22,238.13 L309.14,238.18 L310.07,238.22 L311.00,238.26 L311.92,238.30 L312.85,238.34 L313.77,238.37 L314.70,238.41 L315.63,238.44 L316.55,238.47 L317.48,238.50 L318.40,238.53 L319.33,238.56 L320.26,238.59 L321.18,238.61 L322.11,238.64 L323.03,238.66 L323.96,238.69 L324.89,238.71 L325.81,238.73 L326.74,238.75 L327.67,238.77 L328.59,238.79 L329.52,238.80 L330.44,238.82 L331.37,238.84 L332.30,238.85 L333.22,238.87 L334.15,238.88 L335.07,238.89 L336.00,238.91" fill="none" stroke="#e0557a" stroke-width="1.35"/>
<path d="M92.90,10.70 L101.30,10.70 M94.13,7.73 L100.07,13.67 M97.10,6.50 L97.10,14.90 M100.07,7.73 L94.13,13.67 " stroke="#e0557a" stroke-width="1.05"/>
<path d="M136.20,22.90 L144.60,22.90 M137.43,19.93 L143.37,25.87 M140.40,18.70 L140.40,27.10 M143.37,19.93 L137.43,25.87 " stroke="#e0557a" stroke-width="1.05"/>
<path d="M175.50,87.00 L183.90,87.00 M176.73,84.03 L182.67,89.97 M179.70,82.80 L179.70,91.20 M182.67,84.03 L176.73,89.97 " stroke="#e0557a" stroke-width="1.05"/>
<path d="M220.30,180.50 L228.70,180.50 M221.53,177.53 L227.47,183.47 M224.50,176.30 L224.50,184.70 M227.47,177.53 L221.53,183.47 " stroke="#e0557a" stroke-width="1.05"/>
<path d="M251.30,244.80 L259.70,244.80 M252.53,241.83 L258.47,247.77 M255.50,240.60 L255.50,249.00 M258.47,241.83 L252.53,247.77 " stroke="#e0557a" stroke-width="1.05"/>
<path d="M331.70,208.20 L340.10,208.20 M332.93,205.23 L338.87,211.17 M335.90,204.00 L335.90,212.40 M338.87,205.23 L332.93,211.17 " stroke="#e0557a" stroke-width="1.05"/>
<path d="M59.10,12.30 L59.93,12.30 L60.76,12.30 L61.59,12.30 L62.42,12.30 L63.25,12.30 L64.08,12.30 L64.92,12.30 L65.75,12.30 L66.58,12.30 L67.41,12.30 L68.24,12.30 L69.07,12.30 L69.90,12.30 L70.73,12.30 L71.56,12.30 L72.39,12.30 L73.22,12.30 L74.05,12.30 L74.88,12.30 L75.72,12.30 L76.55,12.30 L77.38,12.30 L78.21,12.30 L79.04,12.30 L79.87,12.30 L80.70,12.30 L81.53,12.30 L82.36,12.30 L83.19,12.30 L84.02,12.30 L84.85,12.30 L85.68,12.30 L86.52,12.30 L87.35,12.30 L88.18,12.30 L89.01,12.30 L89.84,12.30 L90.67,12.30 L91.50,12.30 L92.33,12.30 L93.16,12.30 L93.99,12.30 L94.82,12.30 L95.65,12.30 L96.48,12.30 L97.32,12.30 L98.15,12.30 L98.98,12.30 L99.81,12.30 L100.64,12.30 L101.47,12.30 L102.30,12.30 L103.13,12.30 L103.96,12.30 L104.79,12.30 L105.62,12.33 L106.45,12.37 L107.28,12.40 L108.12,12.44 L108.95,12.47 L109.78,12.51 L110.61,12.55 L111.44,12.60 L112.27,12.64 L113.10,12.69 L113.93,12.74 L114.76,12.80 L115.59,12.85 L116.42,12.91 L117.25,12.98 L118.08,13.04 L118.92,13.11 L119.75,13.18 L120.58,13.26 L121.41,13.34 L122.24,13.43 L123.07,13.52 L123.90,13.61 L124.73,13.71 L125.56,13.81 L126.39,13.92 L127.22,14.04 L128.05,14.16 L128.88,14.29 L129.72,14.42 L130.55,14.56 L131.38,14.71 L132.21,14.87 L133.04,15.03 L133.87,15.21 L134.70,15.39 L135.53,15.58 L136.36,15.78 L137.19,15.99 L138.02,16.21 L138.85,16.45 L139.68,16.69 L140.52,16.95 L141.35,17.22 L142.18,17.50 L143.01,17.80 L143.84,18.12 L144.67,18.44 L145.50,18.79 L146.33,19.15 L147.16,19.53 L147.99,19.93 L148.82,20.35 L149.65,20.79 L150.48,21.25 L151.32,21.74 L152.15,22.25 L152.98,22.78 L153.81,23.34 L154.64,23.92 L155.47,24.53 L156.30,25.17 L157.13,25.84 L157.96,26.54 L158.79,27.28 L159.62,28.05 L160.45,28.85 L161.28,29.69 L162.12,30.57 L162.95,31.48 L163.78,32.44 L164.61,33.44 L165.44,34.48 L166.27,35.56 L167.10,36.70 L167.93,37.87 L168.76,39.10 L169.59,40.38 L170.42,41.70 L171.25,43.08 L172.08,44.52 L172.92,46.01 L173.75,47.55 L174.58,49.15 L175.41,50.81 L176.24,52.52 L177.07,54.30 L177.90,56.14 L178.73,58.03 L179.56,59.99 L180.39,62.01 L181.22,64.08 L182.05,66.22 L182.88,68.42 L183.72,70.69 L184.55,73.01 L185.38,75.38 L186.21,77.82 L187.04,80.32 L187.87,82.86 L188.70,85.47 L189.53,88.12 L190.36,90.82 L191.19,93.57 L192.02,96.37 L192.85,99.21 L193.68,102.08 L194.52,104.99 L195.35,107.94 L196.18,110.91 L197.01,113.92 L197.84,116.94 L198.67,119.98 L199.50,123.03 L200.33,126.10 L201.16,129.17 L201.99,132.25 L202.82,135.32 L203.65,138.39 L204.48,141.44 L205.32,144.49 L206.15,147.51 L206.98,150.52 L207.81,153.50 L208.64,156.45 L209.47,159.37 L210.30,162.25 L211.13,165.09 L211.96,167.90 L212.79,170.66 L213.62,173.37 L214.45,176.03 L215.28,178.64 L216.12,181.20 L216.95,183.71 L217.78,186.16 L218.61,188.55 L219.44,190.88 L220.27,193.16 L221.10,195.37 L221.93,197.53 L222.76,199.62 L223.59,201.66 L224.42,203.63 L225.25,205.54 L226.08,207.40 L226.92,209.19 L227.75,210.92 L228.58,212.60 L229.41,214.22 L230.24,215.78 L231.07,217.29 L231.90,218.74 L232.73,220.14 L233.56,221.48 L234.39,222.78 L235.22,224.03 L236.05,225.22 L236.88,226.37 L237.72,227.48 L238.55,228.54 L239.38,229.55 L240.21,230.53 L241.04,231.46 L241.87,232.36 L242.70,233.22 L243.53,234.04 L244.36,234.82 L245.19,235.57 L246.02,236.29 L246.85,236.98 L247.68,237.64 L248.52,238.27 L249.35,238.87 L250.18,239.44 L251.01,239.99 L251.84,240.51 L252.67,241.01 L253.50,241.49 L254.33,241.94 L255.16,242.37 L255.99,242.79 L256.82,243.18 L257.65,243.56 L258.48,243.92 L259.32,244.26 L260.15,244.58 L260.98,244.89 L261.81,245.19 L262.64,245.47 L263.47,245.74 L264.30,245.99 L265.13,246.24 L265.96,246.47 L266.79,246.69 L267.62,246.90 L268.45,247.10 L269.28,247.29 L270.12,247.47 L270.95,247.64 L271.78,247.81 L272.61,247.96 L273.44,248.11 L274.27,248.25 L275.10,248.39 L275.93,248.52 L276.76,248.64 L277.59,248.75 L278.42,248.86 L279.25,248.97 L280.08,249.07 L280.92,249.16 L281.75,249.25 L282.58,249.34 L283.41,249.42 L284.24,249.50 L285.07,249.57 L285.90,249.64 L286.73,249.71 L287.56,249.77 L288.39,249.83 L289.22,249.89 L290.05,249.95 L290.88,250.00 L291.72,250.05 L292.55,250.10 L293.38,250.14 L294.21,250.18 L295.04,250.22 L295.87,250.26 L296.70,250.30 L297.53,250.33 L298.36,250.37 L299.19,250.40 L300.02,250.43 L300.85,250.45 L301.68,250.48 L302.52,250.51 L303.35,250.53 L304.18,250.55 L305.01,250.58 L305.84,250.60 L306.67,250.62 L307.50,250.64" fill="none" stroke="#0b6b12" stroke-width="1.35"/>
<path d="M104.70,8.30 L108.50,12.10 L104.70,15.90 L100.90,12.10 Z" fill="#0b6b12"/>
<path d="M133.60,34.80 L137.40,38.60 L133.60,42.40 L129.80,38.60 Z" fill="#0b6b12"/>
<path d="M162.80,44.50 L166.60,48.30 L162.80,52.10 L159.00,48.30 Z" fill="#0b6b12"/>
<path d="M193.90,81.80 L197.70,85.60 L193.90,89.40 L190.10,85.60 Z" fill="#0b6b12"/>
<path d="M220.60,201.40 L224.40,205.20 L220.60,209.00 L216.80,205.20 Z" fill="#0b6b12"/>
<path d="M304.50,236.50 L308.30,240.30 L304.50,244.10 L300.70,240.30 Z" fill="#0b6b12"/>
<path d="M130.00,12.30 L130.52,12.32 L131.03,12.35 L131.55,12.38 L132.07,12.41 L132.58,12.44 L133.10,12.47 L133.62,12.51 L134.13,12.55 L134.65,12.59 L135.17,12.64 L135.68,12.69 L136.20,12.74 L136.72,12.79 L137.23,12.85 L137.75,12.91 L138.27,12.98 L138.78,13.05 L139.30,13.13 L139.82,13.21 L140.33,13.30 L140.85,13.40 L141.37,13.50 L141.88,13.61 L142.40,13.72 L142.92,13.85 L143.43,13.98 L143.95,14.12 L144.47,14.27 L144.98,14.43 L145.50,14.61 L146.02,14.79 L146.54,14.99 L147.05,15.20 L147.57,15.43 L148.09,15.67 L148.60,15.93 L149.12,16.20 L149.64,16.50 L150.15,16.81 L150.67,17.15 L151.19,17.50 L151.70,17.89 L152.22,18.29 L152.74,18.73 L153.25,19.19 L153.77,19.69 L154.29,20.21 L154.80,20.77 L155.32,21.37 L155.84,22.00 L156.35,22.68 L156.87,23.40 L157.39,24.17 L157.90,24.98 L158.42,25.84 L158.94,26.76 L159.45,27.73 L159.97,28.76 L160.49,29.86 L161.00,31.02 L161.52,32.24 L162.04,33.54 L162.55,34.91 L163.07,36.36 L163.59,37.89 L164.10,39.49 L164.62,41.19 L165.14,42.97 L165.65,44.85 L166.17,46.81 L166.69,48.88 L167.20,51.04 L167.72,53.30 L168.24,55.65 L168.75,58.12 L169.27,60.68 L169.79,63.34 L170.30,66.11 L170.82,68.98 L171.34,71.95 L171.85,75.01 L172.37,78.17 L172.89,81.43 L173.40,84.77 L173.92,88.20 L174.44,91.71 L174.95,95.29 L175.47,98.94 L175.99,102.65 L176.51,106.41 L177.02,110.22 L177.54,114.07 L178.06,117.96 L178.57,121.86 L179.09,125.78 L179.61,129.70 L180.12,133.62 L180.64,137.53 L181.16,141.41 L181.67,145.27 L182.19,149.09 L182.71,152.86 L183.22,156.59 L183.74,160.25 L184.26,163.84 L184.77,167.37 L185.29,170.82 L185.81,174.19 L186.32,177.47 L186.84,180.66 L187.36,183.76 L187.87,186.77 L188.39,189.67 L188.91,192.49 L189.42,195.20 L189.94,197.82 L190.46,200.33 L190.97,202.75 L191.49,205.07 L192.01,207.30 L192.52,209.43 L193.04,211.46 L193.56,213.41 L194.07,215.27 L194.59,217.04 L195.11,218.73 L195.62,220.34 L196.14,221.87 L196.66,223.32 L197.17,224.70 L197.69,226.01 L198.21,227.26 L198.72,228.43 L199.24,229.55 L199.76,230.61 L200.27,231.61 L200.79,232.55 L201.31,233.45 L201.82,234.29 L202.34,235.09 L202.86,235.85 L203.37,236.56 L203.89,237.23 L204.41,237.87 L204.92,238.46 L205.44,239.03 L205.96,239.56 L206.47,240.06 L206.99,240.53 L207.51,240.98 L208.03,241.40 L208.54,241.79 L209.06,242.16 L209.58,242.51 L210.09,242.84 L210.61,243.15 L211.13,243.44 L211.64,243.72 L212.16,243.97 L212.68,244.22 L213.19,244.44 L213.71,244.66 L214.23,244.86 L214.74,245.05 L215.26,245.23 L215.78,245.40 L216.29,245.55 L216.81,245.70 L217.33,245.84 L217.84,245.97 L218.36,246.10 L218.88,246.21 L219.39,246.32 L219.91,246.42 L220.43,246.52 L220.94,246.61 L221.46,246.69 L221.98,246.77 L222.49,246.85 L223.01,246.92 L223.53,246.98 L224.04,247.05 L224.56,247.10 L225.08,247.16 L225.59,247.21 L226.11,247.26 L226.63,247.30 L227.14,247.35 L227.66,247.39 L228.18,247.42 L228.69,247.46 L229.21,247.49 L229.73,247.52 L230.24,247.55 L230.76,247.58 L231.28,247.61 L231.79,247.63 L232.31,247.65 L232.83,247.67 L233.34,247.70 L233.86,247.71 L234.38,247.73 L234.89,247.75 L235.41,247.76 L235.93,247.78 L236.44,247.79 L236.96,247.81 L237.48,247.82 L237.99,247.83 L238.51,247.84 L239.03,247.85 L239.55,247.86 L240.06,247.87 L240.58,247.88 L241.10,247.88 L241.61,247.89 L242.13,247.90 L242.65,247.91 L243.16,247.91 L243.68,247.92 L244.20,247.92 L244.71,247.93 L245.23,247.93 L245.75,247.94 L246.26,247.94 L246.78,247.94 L247.30,247.95 L247.81,247.95 L248.33,247.96 L248.85,247.96 L249.36,247.96 L249.88,247.96 L250.40,247.97 L250.91,247.97 L251.43,247.97 L251.95,247.97 L252.46,247.98 L252.98,247.98 L253.50,247.98 L254.01,247.98 L254.53,247.98 L255.05,247.98 L255.56,247.98 L256.08,247.99 L256.60,247.99 L257.11,247.99 L257.63,247.99 L258.15,247.99 L258.66,247.99 L259.18,247.99 L259.70,247.99 L260.21,247.99 L260.73,247.99 L261.25,248.00 L261.76,248.00 L262.28,248.00 L262.80,248.00 L263.31,248.00 L263.83,248.00 L264.35,248.00 L264.86,248.00 L265.38,248.00 L265.90,248.00 L266.41,248.00 L266.93,248.00 L267.45,248.00 L267.96,248.00 L268.48,248.00 L269.00,248.00 L269.52,248.00 L270.03,248.00 L270.55,248.00 L271.07,248.00 L271.58,248.00 L272.10,248.00 L272.62,248.00 L273.13,248.00 L273.65,248.00 L274.17,248.00 L274.68,248.00 L275.20,248.00 L275.72,248.00 L276.23,248.00 L276.75,248.00 L277.27,248.00 L277.78,248.00 L278.30,248.00 L278.82,248.00 L279.33,248.00 L279.85,248.00 L280.37,248.00 L280.88,248.00 L281.40,248.00 L281.92,248.00 L282.43,248.00 L282.95,248.00 L283.47,248.01 L283.98,248.01 L284.50,248.01" fill="none" stroke="#a82a2e" stroke-width="1.35"/>
<circle cx="129.70" cy="12.10" r="3.3" fill="#a82a2e"/>
<circle cx="169.10" cy="59.10" r="3.3" fill="#a82a2e"/>
<circle cx="197.60" cy="225.40" r="3.3" fill="#a82a2e"/>
<circle cx="284.00" cy="247.50" r="3.3" fill="#a82a2e"/>
<path d="M48,0 V314.2 H350" fill="none" stroke="#000" stroke-width="1.6"/>
<line x1="43" y1="302.30" x2="48" y2="302.30" stroke="#000" stroke-width="1.2"/>
<line x1="43" y1="244.34" x2="48" y2="244.34" stroke="#000" stroke-width="1.2"/>
<line x1="43" y1="186.38" x2="48" y2="186.38" stroke="#000" stroke-width="1.2"/>
<line x1="43" y1="128.42" x2="48" y2="128.42" stroke="#000" stroke-width="1.2"/>
<line x1="43" y1="70.46" x2="48" y2="70.46" stroke="#000" stroke-width="1.2"/>
<line x1="43" y1="12.50" x2="48" y2="12.50" stroke="#000" stroke-width="1.2"/>
<line x1="59.10" y1="314" x2="59.10" y2="319" stroke="#000" stroke-width="1.2"/>
<line x1="121.00" y1="314" x2="121.00" y2="319" stroke="#000" stroke-width="1.2"/>
<line x1="182.90" y1="314" x2="182.90" y2="319" stroke="#000" stroke-width="1.2"/>
<line x1="244.80" y1="314" x2="244.80" y2="319" stroke="#000" stroke-width="1.2"/>
<line x1="306.70" y1="314" x2="306.70" y2="319" stroke="#000" stroke-width="1.2"/>
<text stroke="#000" stroke-width="0.15" x="36" y="306.60" text-anchor="end" font-size="12" style='font-family:"Liberation Sans",sans-serif'>0</text>
<text stroke="#000" stroke-width="0.15" x="36" y="248.64" text-anchor="end" font-size="12" style='font-family:"Liberation Sans",sans-serif'>20</text>
<text stroke="#000" stroke-width="0.15" x="36" y="190.68" text-anchor="end" font-size="12" style='font-family:"Liberation Sans",sans-serif'>40</text>
<text stroke="#000" stroke-width="0.15" x="36" y="132.72" text-anchor="end" font-size="12" style='font-family:"Liberation Sans",sans-serif'>60</text>
<text stroke="#000" stroke-width="0.15" x="36" y="74.76" text-anchor="end" font-size="12" style='font-family:"Liberation Sans",sans-serif'>80</text>
<text stroke="#000" stroke-width="0.15" x="36" y="16.80" text-anchor="end" font-size="12" style='font-family:"Liberation Sans",sans-serif'>100</text>
<text stroke="#000" stroke-width="0.15" x="59.10" y="342.3" text-anchor="middle" font-size="12" style='font-family:"Liberation Sans",sans-serif'>0</text>
<text stroke="#000" stroke-width="0.15" x="121.00" y="342.3" text-anchor="middle" font-size="12" style='font-family:"Liberation Sans",sans-serif'>400</text>
<text stroke="#000" stroke-width="0.15" x="182.90" y="342.3" text-anchor="middle" font-size="12" style='font-family:"Liberation Sans",sans-serif'>800</text>
<text stroke="#000" stroke-width="0.15" x="244.80" y="342.3" text-anchor="middle" font-size="12" style='font-family:"Liberation Sans",sans-serif'>1,200</text>
<text stroke="#000" stroke-width="0.15" x="306.70" y="342.3" text-anchor="middle" font-size="12" style='font-family:"Liberation Sans",sans-serif'>1,600</text>
<text stroke="#000" stroke-width="0.15" x="182.3" y="360.5" text-anchor="middle" font-size="14" style='font-family:"Liberation Sans",sans-serif'>Growing degree days</text>
<text stroke="#000" stroke-width="0.15" transform="translate(10,156.8) rotate(-90)" text-anchor="middle" font-size="14" style='font-family:"Liberation Sans",sans-serif'>Lint yield (% of weed free)</text>
<text stroke="#c0444e" stroke-width="0.3" x="44.2" y="26.8" text-anchor="end" font-size="9" fill="#c0444e" style='font-family:"Liberation Sans",sans-serif'>(96)</text>
<text stroke="#f0a020" stroke-width="0.3" x="44.2" y="64.8" text-anchor="end" font-size="9" fill="#f0a020" style='font-family:"Liberation Sans",sans-serif'>(82)</text>
<text stroke="#4a78dc" stroke-width="0.3" x="44.2" y="108" text-anchor="end" font-size="9" fill="#4a78dc" style='font-family:"Liberation Sans",sans-serif'>(68)</text>
<text stroke="#4a78dc" stroke-width="0.3" x="63.4" y="328.5" text-anchor="middle" font-size="9" fill="#4a78dc" style='font-family:"Liberation Sans",sans-serif'>(29)</text>
<text stroke="#c0444e" stroke-width="0.3" x="146.2" y="328" text-anchor="middle" font-size="9" fill="#c0444e" style='font-family:"Liberation Sans",sans-serif'>(564)</text>
<text stroke="#222" stroke-width="0.3" x="180" y="328" text-anchor="middle" font-size="9" fill="#222" style='font-family:"Liberation Sans",sans-serif'>(783)</text>
<text stroke="#e0557a" stroke-width="0.3" x="348.5" y="235" text-anchor="end" font-size="9" fill="#e0557a" style='font-family:"Liberation Sans",sans-serif'>(22%)</text>
<text stroke="#f0a020" stroke-width="0.3" x="331.8" y="285" text-anchor="end" font-size="9" fill="#f0a020" style='font-family:"Liberation Sans",sans-serif'>(5%)</text>
<text stroke="#4a78dc" stroke-width="0.3" x="345" y="311" text-anchor="end" font-size="9" fill="#4a78dc" style='font-family:"Liberation Sans",sans-serif'>(0%)</text>
<text stroke="#222" stroke-width="0.3" x="253" y="29.70" font-size="9" fill="#222" style='font-family:"Liberation Sans",sans-serif'>CWFP</text>
<line x1="291" y1="26.5" x2="307.7" y2="26.5" stroke="#000" stroke-width="1.3"/>
<path d="M296.35,29.05 L302.35,29.05 L299.35,23.50 Z" fill="none" stroke="#000" stroke-width="1.35"/>
<text stroke="#4470dc" stroke-width="0.3" x="253" y="41.20" font-size="9" fill="#4470dc" style='font-family:"Liberation Sans",sans-serif'>CTWR 0 GDD</text>
<line x1="322.1" y1="38" x2="338.6" y2="38" stroke="#4470dc" stroke-width="1.3"/>
<path d="M325.95,38.00 H334.75 M330.35,33.60 V42.40" stroke="#4470dc" stroke-width="1.3"/>
<text stroke="#f8a21c" stroke-width="0.3" x="253" y="53.20" font-size="9" fill="#f8a21c" style='font-family:"Liberation Sans",sans-serif'>CTWR 79 GDD</text>
<line x1="330" y1="50" x2="346.3" y2="50" stroke="#f8a21c" stroke-width="1.3"/>
<path d="M334.85,46.70 L341.45,53.30 M334.85,53.30 L341.45,46.70" stroke="#f8a21c" stroke-width="1.4"/>
<text stroke="#a0a0a0" stroke-width="0.3" x="253" y="64.80" font-size="9" fill="#a0a0a0" style='font-family:"Liberation Sans",sans-serif'>CTWR 159 GDD</text>
<line x1="330" y1="61.6" x2="346.3" y2="61.6" stroke="#a0a0a0" stroke-width="1.3"/>
<path d="M334.55,58.72 L341.75,58.72 L338.15,65.20 Z" fill="white" stroke="#a6a6a6" stroke-width="1.3"/>
<text stroke="#5fd04f" stroke-width="0.3" x="253" y="76.20" font-size="9" fill="#5fd04f" style='font-family:"Liberation Sans",sans-serif'>CTWR 167 GDD</text>
<line x1="330" y1="73" x2="346.3" y2="73" stroke="#5fd04f" stroke-width="1.3"/>
<rect x="334.95" y="69.80" width="6.40" height="6.40" fill="#5fd04f"/><path d="M336.05,70.90 L340.25,75.10 M336.05,75.10 L340.25,70.90" stroke="#b8ecb0" stroke-width="0.7"/>
<text stroke="#e0557a" stroke-width="0.3" x="253" y="87.80" font-size="9" fill="#e0557a" style='font-family:"Liberation Sans",sans-serif'>CTWR 245 GDD</text>
<line x1="330" y1="84.6" x2="346.3" y2="84.6" stroke="#e0557a" stroke-width="1.3"/>
<path d="M333.95,84.60 L342.35,84.60 M335.18,81.63 L341.12,87.57 M338.15,80.40 L338.15,88.80 M341.12,81.63 L335.18,87.57 " stroke="#e0557a" stroke-width="1.05"/>
<text stroke="#0b6b12" stroke-width="0.3" x="253" y="99.50" font-size="9" fill="#0b6b12" style='font-family:"Liberation Sans",sans-serif'>CTWR 295 GDD</text>
<line x1="330" y1="96.3" x2="346.3" y2="96.3" stroke="#0b6b12" stroke-width="1.3"/>
<path d="M338.15,92.50 L341.95,96.30 L338.15,100.10 L334.35,96.30 Z" fill="#0b6b12"/>
<text stroke="#a82a2e" stroke-width="0.3" x="253" y="111.00" font-size="9" fill="#a82a2e" style='font-family:"Liberation Sans",sans-serif'>CTWR 458 GDD</text>
<line x1="330" y1="107.8" x2="346.3" y2="107.8" stroke="#a82a2e" stroke-width="1.3"/>
<circle cx="338.15" cy="107.80" r="3.3" fill="#a82a2e"/>
</svg></body></html>
